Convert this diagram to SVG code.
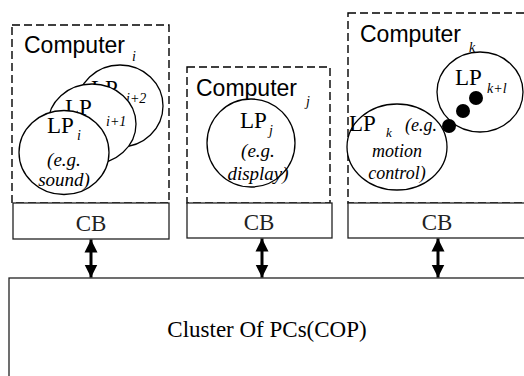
<svg xmlns="http://www.w3.org/2000/svg" width="524" height="376" viewBox="0 0 524 376">
<defs>
<style>
.dash{fill:none;stroke:#000;stroke-width:1.4;stroke-dasharray:8 4}
.box{fill:#fff;stroke:#222;stroke-width:1.3}
.lp{fill:#fff;stroke:#000;stroke-width:1.3}
.sans{font-family:"Liberation Sans",Arial,sans-serif;font-size:23px;fill:#000}
.ser{font-family:"Liberation Serif","Times New Roman",serif;font-size:23px;fill:#000}
.it{font-family:"Liberation Serif","Times New Roman",serif;font-style:italic;fill:#000}
.sub{font-size:14px}
.eg{font-size:19px}
.cb{font-family:"Liberation Serif","Times New Roman",serif;font-size:23px;fill:#222;text-anchor:middle}
.arr{stroke:#000;stroke-width:3;fill:none;marker-start:url(#ah);marker-end:url(#ah)}
</style>
<marker id="ah" viewBox="0 0 10 10" refX="10" refY="5" markerUnits="userSpaceOnUse" markerWidth="13" markerHeight="14" orient="auto-start-reverse">
<path d="M0,0 L10,5 L0,10 z" fill="#000"/>
</marker>
</defs>
<rect width="524" height="376" fill="#fff"/>

<g id="computer-i">
<rect class="dash" x="12" y="25" width="157" height="178"/>
<text class="sans" x="24" y="53">Computer</text>
<text class="it sub" x="132" y="61">i</text>
<g id="lp-i2">
<ellipse class="lp" cx="120" cy="106" rx="43" ry="41"/>
<text class="ser" x="91" y="96">LP</text>
<text class="it sub" x="126" y="103">i+2</text>
</g>
<g id="lp-i1">
<ellipse class="lp" cx="92" cy="124" rx="44" ry="40"/>
<text class="ser" x="65" y="115">LP</text>
<text class="it sub" x="106" y="126">i+1</text>
</g>
<g id="lp-i">
<ellipse class="lp" cx="64" cy="152.5" rx="45" ry="42"/>
<text class="ser" x="47" y="133">LP</text>
<text class="it sub" x="77" y="140">i</text>
<text class="it eg" x="64" y="166" text-anchor="middle">(e.g.</text>
<text class="it eg" x="64" y="186" text-anchor="middle">sound)</text>
</g>
</g>

<g id="computer-j">
<rect class="dash" x="187" y="67" width="143" height="136"/>
<text class="sans" x="196" y="96">Computer</text>
<text class="it sub" x="306" y="106">j</text>
<g id="lp-j">
<ellipse class="lp" cx="251" cy="143" rx="44" ry="44"/>
<text class="ser" x="240" y="128">LP</text>
<text class="it sub" x="269" y="135">j</text>
<text class="it eg" x="258" y="157" text-anchor="middle">(e.g.</text>
<text class="it eg" x="258" y="180" text-anchor="middle">display)</text>
</g>
</g>

<g id="computer-k">
<rect class="dash" x="348" y="13" width="190" height="190"/>
<text class="sans" x="360" y="42">Computer</text>
<text class="it sub" x="469" y="52">k</text>
<g id="lp-kl">
<ellipse class="lp" cx="480" cy="92" rx="43" ry="40"/>
<text class="ser" x="455" y="85">LP</text>
<text class="it sub" x="487" y="93">k+l</text>
</g>
<g id="lp-k">
<ellipse class="lp" cx="397" cy="147" rx="50" ry="43"/>
<text class="ser" x="349" y="131">LP</text>
<text class="it" font-size="13" x="386" y="137">k</text>
<text class="it" font-size="18" x="405" y="131">(e.g.</text>
<text class="it" font-size="18" x="397" y="157" text-anchor="middle">motion</text>
<text class="it" font-size="18" x="397" y="179" text-anchor="middle">control)</text>
</g>
<g id="dots" fill="#000">
<circle cx="476" cy="98" r="7"/>
<circle cx="463" cy="111" r="7"/>
<circle cx="449" cy="126" r="7"/>
</g>
</g>

<g id="cb-i">
<rect class="box" x="13" y="203" width="156" height="36"/>
<text class="cb" x="91" y="231">CB</text>
</g>
<g id="cb-j">
<rect class="box" x="187" y="203" width="145" height="35"/>
<text class="cb" x="259" y="230">CB</text>
</g>
<g id="cb-k">
<rect class="box" x="348" y="203" width="190" height="35"/>
<text class="cb" x="437" y="230">CB</text>
</g>

<g id="cop">
<rect class="box" x="9" y="278" width="530" height="110"/>
<text class="ser" font-size="23.5" x="267" y="337" text-anchor="middle">Cluster Of PCs(COP)</text>
</g>

<g id="connectors">
<line class="arr" x1="91" y1="239.5" x2="91" y2="277.5"/>
<line class="arr" x1="262" y1="238.5" x2="262" y2="277.5"/>
<line class="arr" x1="438" y1="238.5" x2="438" y2="277.5"/>
</g>
</svg>
